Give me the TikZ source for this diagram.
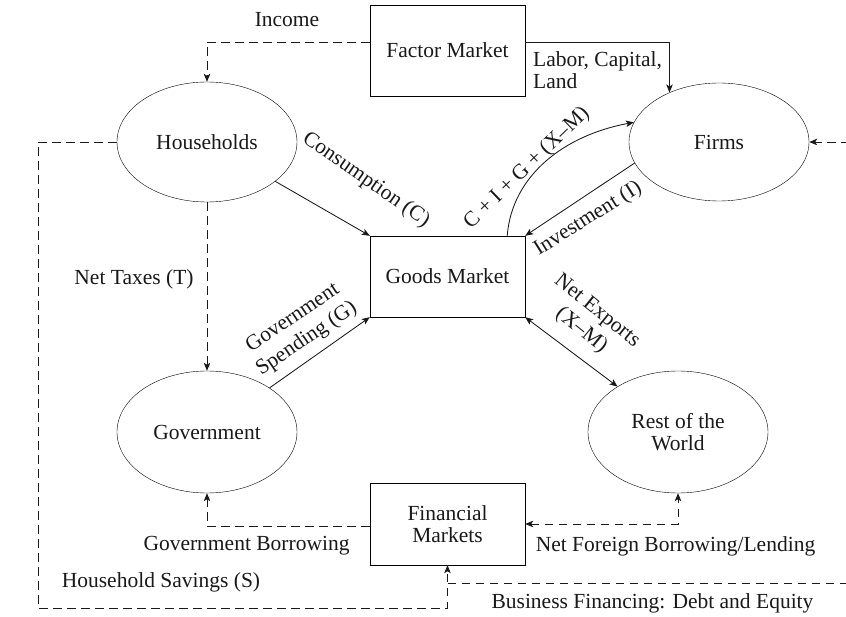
\documentclass[tikz,border=0pt]{standalone}
\usepackage{fontspec}
\setmainfont{Liberation Serif}
\usetikzlibrary{arrows.meta,shapes.geometric}
\tikzset{
  every node/.style={font=\fontsize{21.5}{22}\selectfont, text=black!90},
  ell/.style={draw, ellipse, inner sep=0pt, minimum width=180pt, minimum height=120pt, align=center},
  mkt/.style={draw, rectangle, inner sep=0pt, minimum width=155pt, align=center},
  ln/.style={line width=0.85pt, black!90},
  dsh/.style={ln, dash pattern=on 8.5pt off 5.5pt},
  tip/.style={-{Stealth[length=8pt,width=6.5pt,inset=2pt]}},
  tips/.style={{Stealth[length=8pt,width=6.5pt,inset=2pt]}-{Stealth[length=8pt,width=6.5pt,inset=2pt]}},
  lbl/.style={inner sep=0pt, align=center},
  rlbl/.style={lbl, font=\fontsize{21.5}{25}\selectfont},
}
\begin{document}
\begin{tikzpicture}[x=1pt,y=-1pt]
\clip (0,0) rectangle (846,617);
\fill[white] (0,0) rectangle (846,617);
% nodes
\node[mkt, minimum height=91pt] (fac) at (447.5,50.5) {Factor Market};
\node[mkt, minimum height=81pt] (gm) at (447.5,276.5) {Goods Market};
\node[mkt, minimum height=82pt] (finm) at (447.5,524) {Financial\\Markets};
\node[ell] (hh) at (207,142) {Households};
\node[ell, minimum height=118pt] (firms) at (719,142) {Firms};
\node[ell, minimum height=122pt] (gov) at (207,432) {Government};
\node[ell, minimum height=122pt] (row) at (678,432) {Rest of the\\World};
\coordinate (hs1) at (38,608);
\coordinate (bf1) at (862,583);
% connectors
\draw[dsh,tip] (fac.west |- 0,42) -| (hh.north);
\draw[ln,tip] (fac.east |- 0,42) -| (firms.135);
\draw[ln,tip] (hh) -- (gm.north west);
\draw[ln,tip] (gov) -- (gm.south west);
\draw[ln,tip] (firms.194) -- (gm.north east);
\draw[ln,tips] (gm.south east) -- (row);
\draw[ln,tip] ([xshift=-18pt]gm.north east) .. controls (512,175) and (565,135) .. (firms.167);
\draw[dsh,tip] (hh.south) -- (gov.north);
\draw[dsh,tip] (finm.west |- 0,526) -| (gov.south);
\draw[dsh,tips] (finm.east |- 0,524) -| (row.south);
\draw[dsh,tip] (hh.west) -| (hs1) -| (finm.south);
\draw[dsh,tip] (finm.south |- bf1) -- (bf1) |- (firms.east);
% labels
\node[lbl] (tinc) at (287,20) {Income};
\node[lbl, align=left, anchor=west] (tlab) at (533,70) {Labor, Capital,\\Land};
\node[lbl, rotate=-35] (tcons) at (366,180) {Consumption (C)};
\node[lbl, rotate=44] (tsum) at (527,168) {C + I + G + (X–M)};
\node[lbl, rotate=32] (tinv) at (588,219) {Investment (I)};
\node[rlbl, rotate=34] (tgs) at (300,329) {Government\\Spending (G)};
\node[rlbl, rotate=-39] (tnx) at (589,321) {Net Exports\\(X–M)};
\node[lbl] (ttax) at (134,279) {Net Taxes (T)};
\node[lbl] (tgb) at (246.5,546) {Government Borrowing};
\node[lbl] (tnf) at (675.5,546) {Net Foreign Borrowing/Lending};
\node[lbl] (ths) at (161,582) {Household Savings (S)};
\node[lbl] (tbf) at (652.5,603) {Business Financing: Debt and Equity};
\end{tikzpicture}
\end{document}
